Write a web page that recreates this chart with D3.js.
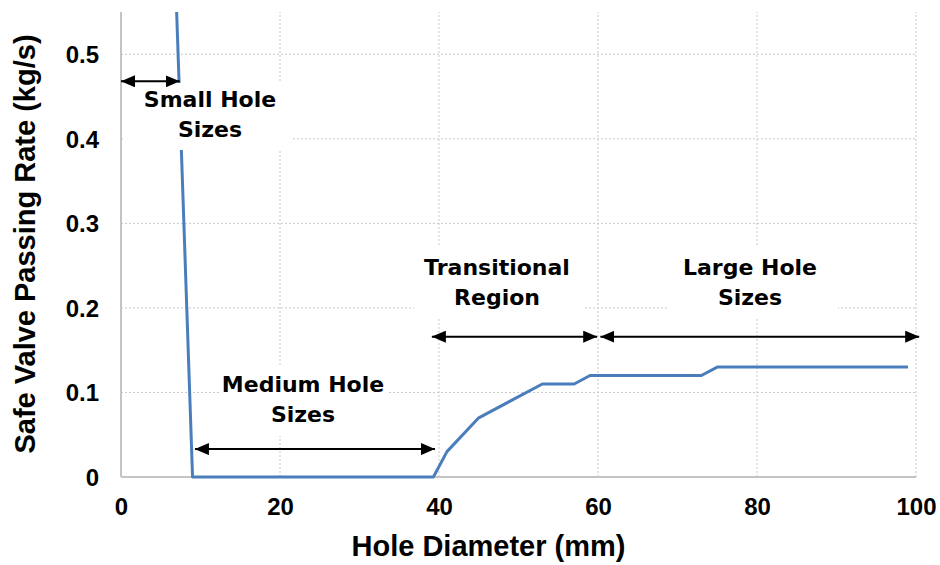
<!DOCTYPE html>
<html>
<head>
<meta charset="utf-8">
<script src="https://cdn.jsdelivr.net/npm/d3@7"></script>
<style>
  html, body { margin: 0; padding: 0; background: #fff; }
  svg { display: block; }
</style>
</head>
<body>
<svg id="chart" width="940" height="565"></svg>
<script>
// ---- data ----
const holeDiameter = [7, 9, 39.3, 41, 45, 49, 53, 57, 59, 73, 75, 99];
const passingRate  = [0.55, 0, 0, 0.03, 0.07, 0.09, 0.11, 0.11, 0.12, 0.12, 0.13, 0.13];
const xTicks = [0, 20, 40, 60, 80, 100];
const yTicks = [0, 0.1, 0.2, 0.3, 0.4, 0.5];
const regionNames = [["Small Hole", "Sizes"], ["Medium Hole", "Sizes"], ["Transitional", "Region"], ["Large Hole", "Sizes"]];
const regionStart = [0, 9.3, 39.1, 60.3];
const regionEnd   = [7.4, 39.5, 59.9, 100.4];
const regionArrowY = [0.468, 0.033, 0.166, 0.166];
const xTitle = "Hole Diameter (mm)";
const yTitle = "Safe Valve Passing Rate (kg/s)";

// ---- layout ----
const svg = d3.select("#chart");
const x = d3.scaleLinear().domain([0, 100]).range([121, 916]);
const y = d3.scaleLinear().domain([0, 0.55]).range([477, 12]);
const tickFont = "'Liberation Sans', Arial, sans-serif";
const labelFont = "'DejaVu Sans', Verdana, sans-serif";

// gridlines
const grid = svg.append("g");
grid.selectAll("line.h").data(yTicks.filter(d => d > 0)).join("line")
  .attr("x1", x(0)).attr("x2", x(100))
  .attr("y1", d => y(d)).attr("y2", d => y(d))
  .attr("stroke", "#c8c8c8").attr("stroke-width", 1).attr("stroke-dasharray", "2,2");
grid.selectAll("line.v").data(xTicks.filter(d => d > 0)).join("line")
  .attr("x1", d => x(d)).attr("x2", d => x(d))
  .attr("y1", y(0)).attr("y2", y(0.55))
  .attr("stroke", "#c8c8c8").attr("stroke-width", 1).attr("stroke-dasharray", "2,2");

// axes lines
svg.append("line").attr("x1", x(0)).attr("x2", x(100)).attr("y1", y(0)).attr("y2", y(0))
  .attr("stroke", "#c4c4c4").attr("stroke-width", 2);
svg.append("line").attr("x1", x(0)).attr("x2", x(0)).attr("y1", y(0)).attr("y2", y(0.55))
  .attr("stroke", "#c4c4c4").attr("stroke-width", 2);

// axes via d3
const xAxis = svg.append("g").attr("transform", `translate(0,${y(0) + 30})`)
  .call(d3.axisBottom(x).tickValues(xTicks).tickSize(0).tickPadding(0).tickFormat(d3.format("d")));
xAxis.select(".domain").remove();
xAxis.selectAll("text").attr("font-family", tickFont).attr("font-weight", "bold")
  .attr("font-size", 24).attr("fill", "#000").attr("dy", "0.32em");

const yAxis = svg.append("g").attr("transform", `translate(${x(0) - 22},0)`)
  .call(d3.axisLeft(y).tickValues(yTicks).tickSize(0).tickPadding(0).tickFormat(d => d === 0 ? "0" : d3.format(".1f")(d)));
yAxis.select(".domain").remove();
yAxis.selectAll("text").attr("font-family", tickFont).attr("font-weight", "bold")
  .attr("font-size", 24).attr("fill", "#000").attr("dy", "0.35em");

// data line (clipped to plot)
svg.append("clipPath").attr("id", "plotclip").append("rect")
  .attr("x", x(0)).attr("y", y(0.55)).attr("width", x(100) - x(0)).attr("height", y(0) - y(0.55) + 3);
const pts = holeDiameter.map((d, i) => [d, passingRate[i]]);
svg.append("path").datum(pts)
  .attr("clip-path", "url(#plotclip)")
  .attr("d", d3.line().x(d => x(d[0])).y(d => y(d[1])))
  .attr("fill", "none").attr("stroke", "#4a7ebb").attr("stroke-width", 3).attr("stroke-linejoin", "round");

// label white boxes (hide grid / line)
const boxes = [
  {x0: 125, x1: 293, y0: 83, y1: 150},
  {x0: 219, x1: 388, y0: 367, y1: 436},
  {x0: 414, x1: 583, y0: 245, y1: 319},
  {x0: 668, x1: 838, y0: 245, y1: 319}
];
const labelCenters = [210, 303, 497, 750];
const labelBaselines = [107, 392, 275, 275];
regionNames.forEach((lines, i) => {
  const b = boxes[i];
  svg.append("rect").attr("x", b.x0).attr("y", b.y0).attr("width", b.x1 - b.x0).attr("height", b.y1 - b.y0)
    .attr("fill", "#fff");
  const t = svg.append("text").attr("text-anchor", "middle")
    .attr("font-family", labelFont).attr("font-weight", "bold").attr("font-size", 22).attr("fill", "#000");
  lines.forEach((ln, j) => {
    t.append("tspan").attr("x", labelCenters[i]).attr("y", labelBaselines[i] + j * 30).text(ln);
  });
});

// arrows
const defs = svg.append("defs");
defs.append("marker").attr("id", "ah").attr("viewBox", "0 0 14 12")
  .attr("refX", 14).attr("refY", 6).attr("markerWidth", 14).attr("markerHeight", 12)
  .attr("markerUnits", "userSpaceOnUse").attr("orient", "auto-start-reverse")
  .append("path").attr("d", "M0,0 L14,6 L0,12 Z").attr("fill", "#000");
regionNames.forEach((_, i) => {
  svg.append("line")
    .attr("x1", x(regionStart[i])).attr("x2", x(regionEnd[i]))
    .attr("y1", y(regionArrowY[i])).attr("y2", y(regionArrowY[i]))
    .attr("stroke", "#000").attr("stroke-width", 2)
    .attr("marker-start", "url(#ah)").attr("marker-end", "url(#ah)");
});

// axis titles
svg.append("text").attr("x", (x(0) + x(100)) / 2 + -30).attr("y", 556)
  .attr("text-anchor", "middle").attr("font-family", tickFont).attr("font-weight", "bold")
  .attr("font-size", 29).attr("fill", "#000").text(xTitle);
svg.append("text").attr("transform", "translate(35,244) rotate(-90)")
  .attr("text-anchor", "middle").attr("font-family", tickFont).attr("font-weight", "bold")
  .attr("font-size", 29).attr("fill", "#000").text(yTitle);
</script>
</body>
</html>
